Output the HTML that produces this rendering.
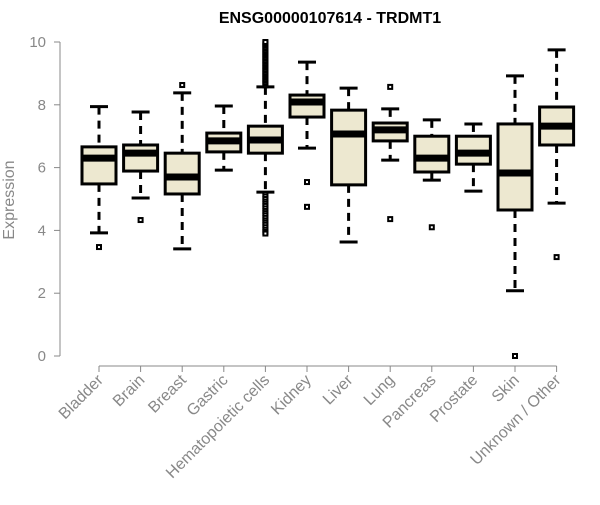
<!DOCTYPE html>
<html><head><meta charset="utf-8"><style>
body{margin:0;background:#fff}
svg text{font-family:"Liberation Sans",sans-serif}
</style></head><body>
<svg id="chart" width="600" height="500" xmlns="http://www.w3.org/2000/svg">
<text x="330" y="23" text-anchor="middle" font-size="16" font-weight="bold">ENSG00000107614 - TRDMT1</text>
<text transform="translate(14,200) rotate(-90)" text-anchor="middle" font-size="16" fill="#888">Expression</text>
<g id="yaxis"></g>
<g id="xaxis"></g>
<g id="boxes"></g>
</svg>
<script>
const categories=["Bladder","Brain","Breast","Gastric","Hematopoietic cells","Kidney","Liver","Lung","Pancreas","Prostate","Skin","Unknown / Other"];
const lowWhisker=[3.92,5.03,3.41,5.92,5.22,6.62,3.63,6.24,5.6,5.25,2.08,4.87];
const q1=[5.48,5.89,5.16,6.5,6.46,7.61,5.45,6.85,5.86,6.11,4.65,6.72];
const median=[6.3,6.46,5.7,6.85,6.88,8.09,7.07,7.2,6.3,6.46,5.83,7.32];
const q3=[6.66,6.72,6.46,7.1,7.32,8.31,7.83,7.42,7.0,7.0,7.39,7.93];
const highWhisker=[7.94,7.77,8.38,7.96,8.57,9.36,8.53,7.87,7.52,7.39,8.92,9.75];
const outliers=[[3.47],[4.33],[8.63],[],[8.62,8.68,8.72,8.78,8.82,8.88,8.92,8.98,9.02,9.08,9.12,9.18,9.22,9.28,9.32,9.38,9.42,9.48,9.52,9.58,9.62,9.68,9.72,9.78,9.82,9.88,9.92,9.97,10.0,5.15,5.08,5.0,4.92,4.85,4.78,4.7,4.62,4.55,4.48,4.4,4.32,4.25,4.18,4.1,4.02,3.95,3.9],[5.54,4.75],[],[8.57,4.36],[4.1],[],[0],[3.15]];
const yTicks=[0,2,4,6,8,10];
const NS="http://www.w3.org/2000/svg";
const y=v=>356-v*31.4;
const x=i=>99+i*41.6;
function mk(parent,tag,attrs){const e=document.createElementNS(NS,tag);for(const k in attrs)e.setAttribute(k,attrs[k]);parent.appendChild(e);return e;}
const ya=document.getElementById('yaxis');
mk(ya,'line',{x1:60,x2:60,y1:y(0),y2:y(10),stroke:'#888','stroke-width':1});
yTicks.forEach(t=>{
 const l=mk(ya,'line',{x1:54,x2:60,y1:y(t),y2:y(t),stroke:'#888'});
 
 
 const tx=mk(ya,'text',{x:46,y:y(t)+5,'text-anchor':'end','font-size':15,fill:'#888'});
 tx.textContent=t;
 
 
});
const xa=document.getElementById('xaxis');
mk(xa,'line',{x1:x(0),x2:x(categories.length-1),y1:366,y2:366,stroke:'#888'});
categories.forEach((c,i)=>{
 const l=mk(xa,'line',{x1:x(i),x2:x(i),y1:366,y2:372,stroke:'#888'});
 
 
 const tx=mk(xa,'text',{transform:`translate(${x(i)+5},${381}) rotate(-45)`,'text-anchor':'end','font-size':16,fill:'#888'});
 tx.textContent=c;
 
 
});
const bx=document.getElementById('boxes');
categories.forEach((c,i)=>{
 const g=mk(bx,'g',{});
 
 
 const cx=x(i),w=17;
 mk(g,'line',{x1:cx,x2:cx,y1:y(highWhisker[i]),y2:y(q3[i]),stroke:'#000','stroke-width':3,'stroke-dasharray':'8,6'});
 mk(g,'line',{x1:cx,x2:cx,y1:y(q1[i]),y2:y(lowWhisker[i]),stroke:'#000','stroke-width':3,'stroke-dasharray':'8,6'});
 mk(g,'line',{x1:cx-9,x2:cx+9,y1:y(highWhisker[i]),y2:y(highWhisker[i]),stroke:'#000','stroke-width':3});
 mk(g,'line',{x1:cx-9,x2:cx+9,y1:y(lowWhisker[i]),y2:y(lowWhisker[i]),stroke:'#000','stroke-width':3});
 mk(g,'rect',{x:cx-w,y:y(q3[i]),width:2*w,height:y(q1[i])-y(q3[i]),fill:'#ede8d0',stroke:'#000','stroke-width':3});
 mk(g,'line',{x1:cx-w,x2:cx+w,y1:y(median[i]),y2:y(median[i]),stroke:'#000','stroke-width':7});
 outliers[i].forEach(o=>{
  const r=mk(g,'rect',{x:cx-2,y:y(o)-2,width:4,height:4,fill:'#fff',stroke:'#000','stroke-width':2});
  
  
 });
});
</script>
</body></html>
